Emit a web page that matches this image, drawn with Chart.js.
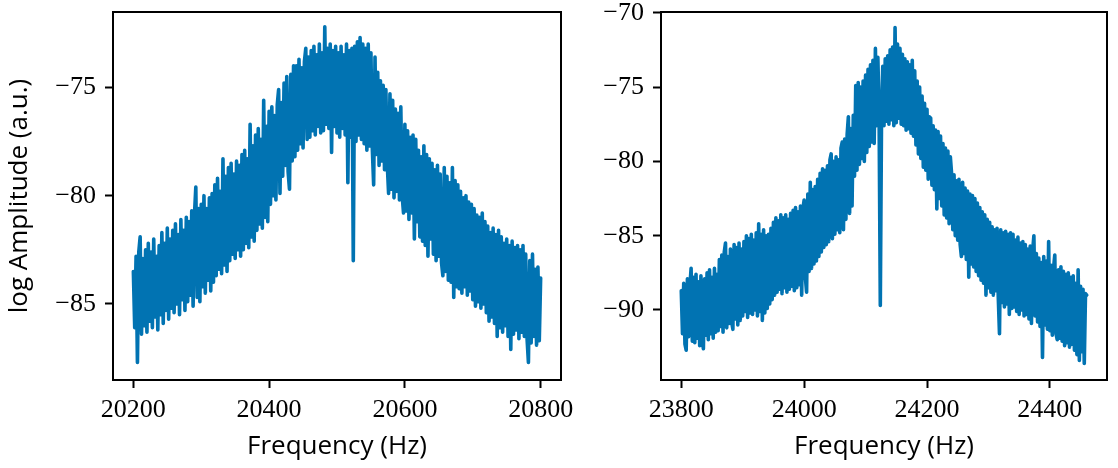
<!DOCTYPE html>
<html>
<head>
<meta charset="utf-8">
<script src="https://cdn.jsdelivr.net/npm/chart.js@4.4.0/dist/chart.umd.min.js"></script>
<style>
  html, body { margin: 0; padding: 0; background: #fff; }
  #wrap { position: relative; width: 1118px; height: 468px; }
  canvas { position: absolute; top: 0; }
</style>
</head>
<body>
<div id="wrap">
  <canvas id="left" width="575" height="468" style="left:0px"></canvas>
  <canvas id="right" width="543" height="468" style="left:575px"></canvas>
</div>
<script>
// spectrum bins (Hz): first bin and bin width
const leftStart = 20200;
const leftStep = 2;
const rightStart = 23800;
const rightStep = 2;

// log amplitude, 20200 .. 20800 Hz (one row = 20 Hz)
const leftAmp = [
  -83.5, -86.1, -82.8, -87.7, -82.6, -81.9, -86.4, -82.9, -86.0, -82.5,
  -86.3, -82.2, -85.8, -82.6, -86.1, -82.0, -85.6, -82.8, -86.2, -82.3,
  -85.5, -81.7, -85.9, -82.2, -85.3, -81.5, -85.7, -82.0, -85.2, -81.6,
  -85.4, -81.3, -85.0, -81.8, -85.5, -81.1, -84.8, -81.6, -85.3, -81.0,
  -84.9, -81.2, -84.6, -80.7, -85.1, -80.9, -79.6, -84.7, -80.6, -84.9,
  -80.4, -84.2, -80.0, -84.5, -80.6, -83.9, -80.1, -84.4, -79.9, -84.0,
  -79.5, -83.7, -79.2, -83.4, -79.8, -83.6, -78.3, -83.2, -79.1, -83.5,
  -78.7, -83.0, -78.5, -82.7, -79.0, -82.9, -78.4, -82.5, -78.6, -82.8,
  -78.1, -82.5, -77.9, -82.2, -78.3, -82.4, -76.7, -81.9, -77.7, -82.1,
  -77.2, -81.6, -76.9, -81.3, -77.4, -81.5, -75.6, -81.0, -76.8, -81.2,
  -76.1, -80.4, -75.9, -80.0, -76.3, -80.2, -75.8, -75.1, -79.9, -75.7,
  -79.1, -74.8, -78.6, -74.5, -78.9, -79.7, -74.4, -78.4, -74.0, -78.2,
  -74.0, -77.9, -73.7, -77.6, -74.1, -77.8, -73.8, -73.2, -77.4, -73.6,
  -77.3, -73.3, -77.0, -73.1, -77.2, -73.5, -76.8, -73.0, -77.1, -73.4,
  -77.0, -72.2, -76.7, -73.2, -76.9, -73.0, -78.0, -73.3, -76.8, -73.1,
  -77.1, -73.4, -77.3, -73.1, -76.9, -73.5, -77.2, -73.0, -79.4, -73.3,
  -77.3, -73.2, -83.0, -73.1, -77.5, -72.9, -77.2, -72.7, -77.4, -73.0,
  -77.6, -73.2, -77.9, -73.0, -77.7, -73.4, -77.8, -79.5, -73.6, -78.1,
  -74.3, -78.6, -74.7, -78.4, -74.9, -78.8, -75.1, -78.5, -79.9, -75.3,
  -79.7, -75.6, -80.1, -76.0, -79.8, -76.2, -80.2, -75.9, -80.0, -80.8,
  -76.7, -80.7, -77.0, -81.1, -77.3, -80.8, -77.2, -82.0, -77.4, -81.2,
  -77.9, -81.9, -78.2, -82.1, -77.7, -82.3, -78.1, -82.8, -78.3, -82.0,
  -78.5, -82.7, -78.8, -83.0, -78.6, -82.8, -79.0, -83.1, -83.7, -78.7,
  -83.5, -79.1, -83.9, -79.4, -84.0, -78.7, -84.7, -79.3, -84.2, -79.5,
  -84.3, -79.8, -84.5, -80.1, -84.2, -80.0, -84.6, -80.3, -84.4, -80.4,
  -84.8, -80.6, -85.1, -80.9, -84.9, -81.0, -85.2, -80.8, -85.0, -81.2,
  -85.4, -81.4, -85.8, -81.7, -85.6, -81.5, -85.9, -81.8, -86.5, -81.6,
  -86.1, -81.9, -86.3, -82.2, -86.0, -82.0, -86.5, -82.3, -87.1, -82.1,
  -86.4, -82.4, -86.2, -82.3, -86.6, -82.5, -86.3, -82.3, -86.5, -82.7,
  -86.6, -87.7, -83.0, -86.8, -82.7, -86.5, -83.4, -86.9, -83.3, -86.7,
  -83.8
];

// log amplitude, 23800 .. 24460 Hz (one row = 20 Hz)
const rightAmp = [
  -88.7, -91.6, -88.2, -92.3, -92.7, -87.9, -91.8, -88.4, -87.2, -92.1,
  -87.8, -92.2, -87.6, -91.9, -88.1, -92.4, -87.7, -92.0, -92.6, -87.9,
  -91.7, -87.5, -92.0, -87.3, -91.6, -87.8, -91.9, -87.2, -91.5, -87.6,
  -91.4, -86.6, -91.1, -86.3, -91.5, -86.1, -85.5, -91.2, -86.4, -90.9,
  -85.9, -90.8, -91.3, -85.6, -90.6, -85.8, -91.0, -85.5, -90.7, -85.9,
  -90.4, -85.4, -90.1, -85.0, -90.5, -85.2, -90.2, -84.9, -90.3, -85.3,
  -90.0, -84.8, -90.4, -84.2, -90.1, -84.9, -90.7, -84.6, -90.2, -85.0,
  -89.9, -84.9, -89.6, -84.5, -89.3, -84.1, -89.0, -83.8, -88.8, -84.0,
  -88.6, -83.6, -88.9, -83.8, -88.5, -83.6, -88.8, -83.9, -88.6, -83.5,
  -88.4, -83.3, -88.7, -83.1, -88.5, -83.4, -88.3, -83.0, -89.0, -83.2,
  -82.6, -87.8, -88.8, -82.2, -87.4, -81.4, -87.2, -81.9, -86.9, -81.7,
  -86.7, -81.2, -86.4, -80.8, -86.1, -80.5, -85.8, -80.6, -85.6, -80.3,
  -85.4, -79.9, -79.5, -85.2, -80.0, -84.9, -79.7, -84.6, -79.9, -84.8,
  -79.1, -78.7, -84.6, -78.5, -83.9, -78.2, -77.0, -83.5, -77.8, -83.0,
  -76.9, -81.0, -74.9, -80.6, -74.7, -80.2, -75.0, -79.8, -74.6, -80.0,
  -74.2, -79.4, -73.8, -79.0, -73.5, -78.7, -73.2, -78.8, -72.4, -77.6,
  -73.0, -76.8, -89.7, -76.9, -73.6, -77.6, -73.1, -77.3, -72.9, -77.5,
  -72.5, -77.2, -72.3, -77.6, -71.0, -77.4, -72.1, -77.1, -72.4, -77.5,
  -72.8, -77.6, -73.1, -77.9, -73.3, -77.8, -73.5, -78.1, -73.2, -78.3,
  -73.9, -78.9, -74.6, -79.5, -75.0, -79.8, -75.6, -80.4, -76.1, -80.6,
  -76.5, -81.2, -77.0, -77.1, -81.6, -77.6, -81.9, -77.9, -83.2, -78.0,
  -82.5, -78.3, -83.0, -78.8, -83.6, -79.1, -83.8, -79.3, -84.2, -79.7,
  -80.8, -84.6, -80.9, -85.0, -81.3, -85.3, -81.2, -85.6, -86.4, -81.4,
  -86.2, -81.8, -86.6, -82.0, -87.8, -82.2, -86.9, -82.3, -87.1, -82.5,
  -87.4, -82.8, -87.7, -83.1, -88.0, -83.4, -88.2, -83.6, -89.0, -83.9,
  -88.5, -84.1, -88.8, -84.4, -89.0, -84.6, -88.7, -84.5, -89.1, -91.6,
  -84.6, -89.5, -84.8, -89.8, -84.7, -89.6, -84.9, -90.3, -84.8, -89.9,
  -84.9, -89.8, -85.3, -90.1, -85.1, -90.3, -85.5, -90.0, -85.4, -90.4,
  -85.6, -90.3, -85.9, -90.6, -85.7, -90.9, -86.0, -85.0, -90.4, -86.2,
  -90.8, -86.5, -91.1, -86.8, -93.2, -86.4, -91.0, -86.7, -91.3, -85.4,
  -91.4, -87.0, -91.7, -87.2, -86.3, -91.6, -92.0, -87.3, -91.9, -87.1,
  -92.1, -87.4, -92.4, -87.6, -92.2, -87.5, -92.5, -87.8, -92.3, -87.7,
  -92.7, -88.2, -93.0, -87.3, -93.4, -88.4, -92.8, -88.6, -93.6, -88.9,
  -89.0
];

const leftXTicks = [20200, 20400, 20600, 20800];
const leftYTicks = [-85, -80, -75];
const rightXTicks = [23800, 24000, 24200, 24400];
const rightYTicks = [-90, -85, -80, -75, -70];

const lineColor = '#0173b2';
const tickFont = { family: '"Liberation Serif", "DejaVu Serif", serif', size: 26 };
const titleFont = { family: '"Open Sans", sans-serif', size: 26 };

// box around the plot area, like matplotlib spines
const frame = {
  id: 'frame',
  afterDraw(chart) {
    const { ctx, chartArea: a } = chart;
    ctx.save();
    ctx.strokeStyle = '#000';
    ctx.lineWidth = 2;
    ctx.strokeRect(a.left, a.top, a.right - a.left, a.bottom - a.top);
    ctx.restore();
  }
};

function toPoints(start, step, amp) {
  return amp.map((v, i) => ({ x: start + i * step, y: v }));
}

function minusLabel(v) {
  return v < 0 ? '\u2212' + Math.abs(v) : String(v);
}

// fixed axis sizes, no extra room for overhanging labels
function noPad(s) {
  s.paddingLeft = 0;
  s.paddingRight = 0;
  s.paddingTop = 0;
  s.paddingBottom = 0;
}

function makeChart(id, cfg) {
  return new Chart(document.getElementById(id), {
    type: 'line',
    data: {
      datasets: [{
        data: toPoints(cfg.start, cfg.step, cfg.amp),
        borderColor: lineColor,
        borderWidth: 3.6,
        pointRadius: 0,
        tension: 0,
        borderJoinStyle: 'round',
        borderCapStyle: 'round'
      }]
    },
    options: {
      responsive: false,
      animation: false,
      events: [],
      layout: { padding: cfg.padding },
      plugins: { legend: { display: false }, tooltip: { enabled: false } },
      scales: {
        x: {
          type: 'linear',
          min: cfg.xMin,
          max: cfg.xMax,
          afterBuildTicks: s => { s.ticks = cfg.xTicks.map(v => ({ value: v })); },
          afterFit: s => { s.height = 88; noPad(s); },
          border: { display: false },
          grid: { drawOnChartArea: false, drawTicks: true, tickLength: 8, tickWidth: 2, tickColor: '#000' },
          ticks: { font: tickFont, color: '#000', padding: 7, maxRotation: 0, autoSkip: false, callback: v => String(v) },
          title: { display: true, text: 'Frequency (Hz)', font: titleFont, color: '#000', padding: { top: 0, bottom: 6 } }
        },
        y: {
          min: cfg.yMin,
          max: cfg.yMax,
          afterBuildTicks: s => { s.ticks = cfg.yTicks.map(v => ({ value: v })); },
          afterFit: s => { s.width = cfg.yWidth; noPad(s); },
          border: { display: false },
          grid: { drawOnChartArea: false, drawTicks: true, tickLength: 8, tickWidth: 2, tickColor: '#000' },
          ticks: { font: tickFont, color: '#000', padding: 9, autoSkip: false, callback: minusLabel },
          title: { display: !!cfg.yTitle, text: cfg.yTitle || '', font: titleFont, color: '#000', padding: { top: 4, bottom: 0 } }
        }
      }
    },
    plugins: [frame]
  });
}

makeChart('left', {
  start: leftStart, step: leftStep, amp: leftAmp,
  xMin: 20170, xMax: 20830, yMin: -88.51, yMax: -71.52,
  xTicks: leftXTicks, yTicks: leftYTicks,
  yWidth: 113, yTitle: 'log Amplitude (a.u.)',
  padding: { top: 12, right: 14, left: 0, bottom: 0 }
});

makeChart('right', {
  start: rightStart, step: rightStep, amp: rightAmp,
  xMin: 23767, xMax: 24493, yMin: -94.71, yMax: -69.95,
  xTicks: rightXTicks, yTicks: rightYTicks,
  yWidth: 86, yTitle: null,
  padding: { top: 12, right: 11, left: 0, bottom: 0 }
});
</script>
</body>
</html>
